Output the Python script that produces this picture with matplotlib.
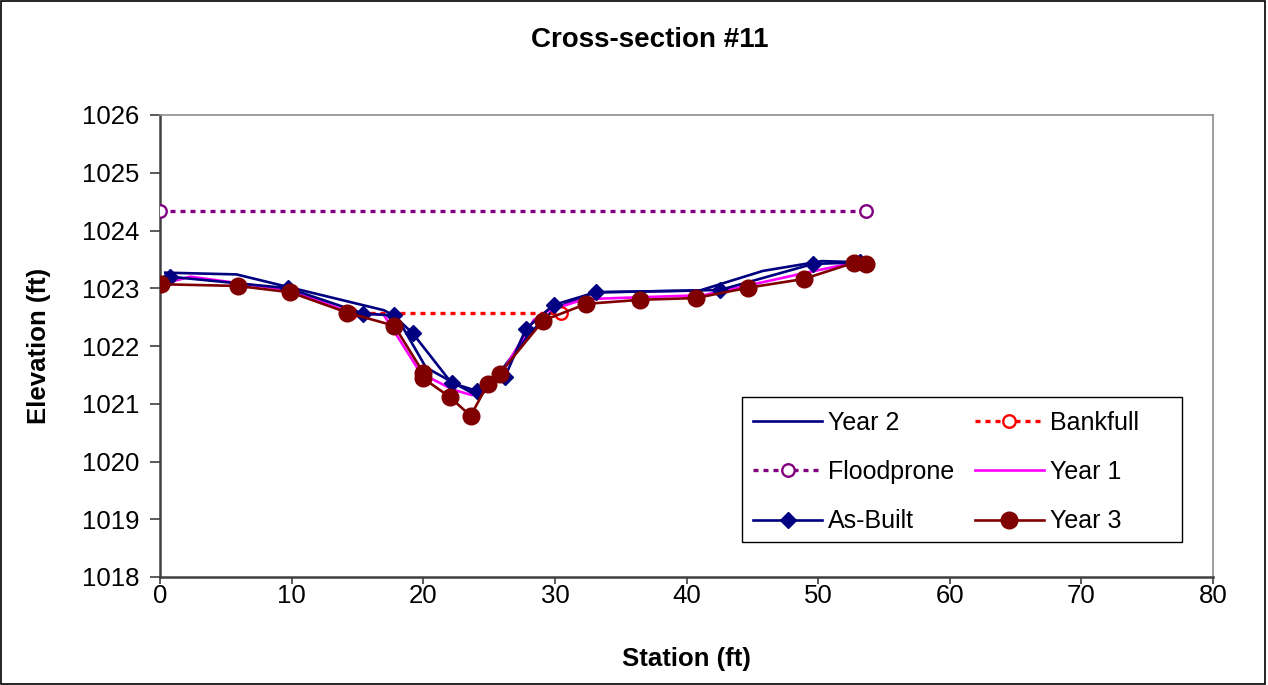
import matplotlib
matplotlib.use("Agg")
from matplotlib import pyplot as plt
from matplotlib.patches import Rectangle

plt.rcParams['font.family'] = ['Liberation Sans', 'DejaVu Sans']

# surveyed cross-section profiles (station ft, elevation ft)
year2_x = [0.4, 5.8, 17.0, 18.0, 20.2, 22.0, 24.0, 25.5, 28.0, 30.0, 33.0, 41.0, 45.8, 50.3, 53.3]
year2_y = [1023.27, 1023.24, 1022.62, 1022.50, 1021.63, 1021.40, 1021.15, 1021.45, 1022.20,
           1022.65, 1022.93, 1022.96, 1023.30, 1023.47, 1023.45]

bankfull_x = [14.4, 30.5]
bankfull_y = [1022.57, 1022.57]

floodprone_x = [0.0, 53.6]
floodprone_y = [1024.34, 1024.34]

year1_x = [0.1, 2.3, 9.8, 14.2, 17.0, 19.8, 22.3, 23.7, 25.8, 28.4, 29.4, 32.2, 37.2, 41.3, 48.9, 52.7]
year1_y = [1023.07, 1023.20, 1022.97, 1022.60, 1022.54, 1021.53, 1021.24, 1021.15, 1021.47,
           1022.45, 1022.60, 1022.81, 1022.85, 1022.88, 1023.26, 1023.44]

asbuilt_x = [0.76, 9.75, 15.45, 17.75, 19.2, 22.15, 24.1, 26.2, 27.8, 29.9, 33.1, 42.55, 49.6, 53.2]
asbuilt_y = [1023.20, 1023.00, 1022.56, 1022.53, 1022.22, 1021.36, 1021.22, 1021.46, 1022.30,
             1022.71, 1022.93, 1022.97, 1023.42, 1023.45]

year3_x = [0.05, 5.9, 9.9, 14.2, 17.8, 20.0, 20.0, 22.0, 23.6, 24.9, 25.8, 29.1, 32.4, 36.5,
           40.7, 44.7, 48.9, 52.7, 53.6]
year3_y = [1023.07, 1023.04, 1022.93, 1022.58, 1022.35, 1021.54, 1021.44, 1021.12, 1020.79,
           1021.34, 1021.52, 1022.44, 1022.73, 1022.80, 1022.83, 1023.01, 1023.16, 1023.44, 1023.42]

x_ticks = [0, 10, 20, 30, 40, 50, 60, 70, 80]
y_ticks = [1018, 1019, 1020, 1021, 1022, 1023, 1024, 1025, 1026]

W, H = 1268, 685
fig = plt.figure(figsize=(W / 100, H / 100), dpi=100)
ax = fig.add_axes([160 / W, 108 / H, 1053 / W, 462 / H])

navy = '#000080'
l_y2, = ax.plot(year2_x, year2_y, color=navy, lw=1.9, label='Year 2', zorder=3)
l_bf, = ax.plot(bankfull_x, bankfull_y, color='#ff0000', lw=2.4, ls=(0, (1.5, 1.5)),
                marker='o', ms=9, mfc='white', mec='#ff0000', mew=1.7, label='Bankfull', zorder=4)
l_fp, = ax.plot(floodprone_x, floodprone_y, color='#800080', lw=2.4, ls=(0, (1.5, 1.5)),
                marker='o', ms=9, mfc='white', mec='#800080', mew=1.7, label='Floodprone', zorder=4)
l_y1, = ax.plot(year1_x, year1_y, color='#ff00ff', lw=1.9, label='Year 1', zorder=3)
l_ab, = ax.plot(asbuilt_x, asbuilt_y, color=navy, lw=1.9, marker='D', ms=8.5,
                mfc=navy, mec=navy, label='As-Built', zorder=5)
l_y3, = ax.plot(year3_x, year3_y, color='#800000', lw=1.9, marker='o', ms=12,
                mfc='#800000', mec='#800000', label='Year 3', zorder=6)

ax.set_xlim(0, 80)
ax.set_ylim(1018, 1026)
ax.set_xticks(x_ticks)
ax.set_yticks(y_ticks)
ax.tick_params(labelsize=18.5, direction='out', width=1.2, color='#404040')
ax.tick_params(axis='y', length=7, pad=8)
ax.tick_params(axis='x', length=5, pad=0)

for side in ('left', 'bottom'):
    ax.spines[side].set_color('#404040')
    ax.spines[side].set_linewidth(1.8)
for side in ('top', 'right'):
    ax.spines[side].set_color('#8c8c8c')
    ax.spines[side].set_linewidth(1.2)

ax.set_xlabel('Station (ft)', fontsize=18.5, fontweight='bold', labelpad=28)
ax.set_ylabel('Elevation (ft)', fontsize=18.5, fontweight='bold', labelpad=22)
fig.text(650 / W, 1 - 40 / H, 'Cross-section #11', fontsize=20, fontweight='bold',
         ha='center', va='center')

# legend in Excel order (row-wise), matplotlib fills column-wise
handles = [l_y2, l_fp, l_ab, l_bf, l_y1, l_y3]
leg = fig.legend(handles=handles, labels=[h.get_label() for h in handles], ncol=2,
                 loc='upper left', bbox_to_anchor=(742 / W, 1 - 400 / H),
                 frameon=False, fontsize=18, handlelength=2.76,
                 handletextpad=0.24, columnspacing=0.8, labelspacing=1.0,
                 borderpad=0.45, borderaxespad=0)
# fixed-size legend box like the original
fig.patches.append(Rectangle((742 / W, 1 - 542 / H), 440 / W, 145 / H, transform=fig.transFigure,
                             facecolor='white', edgecolor='black', lw=1.0, zorder=0.5))
fig.patches.append(Rectangle((0.001, 0.002), 0.997, 0.996, transform=fig.transFigure,
                             fill=False, edgecolor='black', lw=1.2))

fig.savefig('out.png', dpi=100)
